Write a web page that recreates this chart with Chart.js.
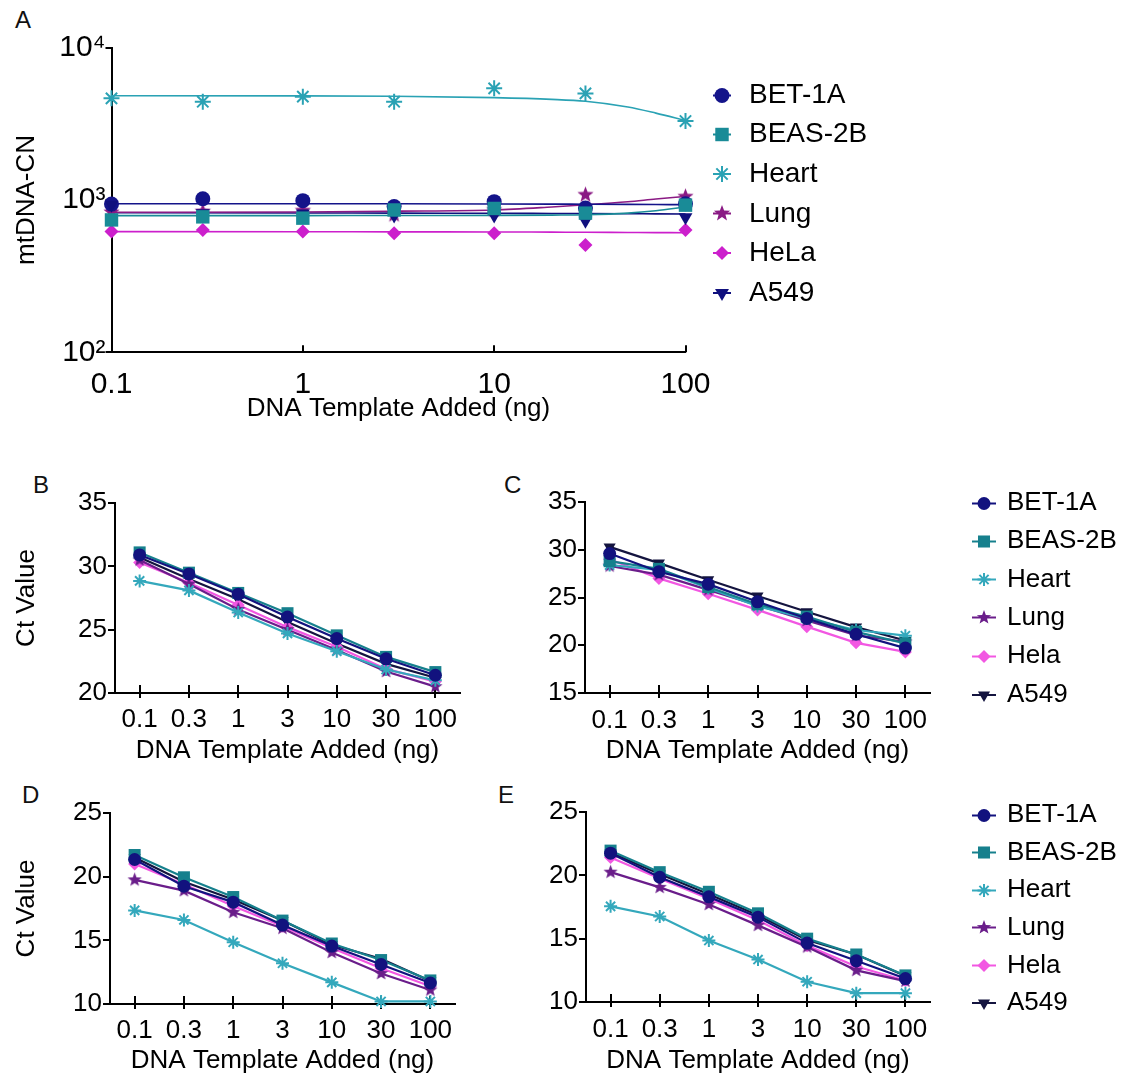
<!DOCTYPE html>
<html>
<head>
<meta charset="utf-8">
<title>mtDNA-CN and Ct values</title>
<script src="https://cdn.jsdelivr.net/npm/chart.js@4.4.1/dist/chart.umd.min.js"></script>
<style>
  html, body { margin: 0; padding: 0; background: #fff; }
  body { position: relative; width: 1128px; height: 1076px; overflow: hidden; font-family: "Liberation Sans", Arial, sans-serif; }
  canvas { position: absolute; }
  .tag { position: absolute; font-size: 24px; line-height: 24px; color: #111; }
</style>
</head>
<body>
<div class="tag" style="left:15px;top:8px">A</div>
<div class="tag" style="left:33px;top:473px">B</div>
<div class="tag" style="left:504px;top:473px">C</div>
<div class="tag" style="left:22px;top:783px">D</div>
<div class="tag" style="left:498px;top:783px">E</div>

<canvas id="chartA" width="1128" height="440" style="left:0;top:0"></canvas>
<canvas id="chartB" width="560" height="300" style="left:0;top:470px"></canvas>
<canvas id="chartC" width="588" height="300" style="left:540px;top:470px"></canvas>
<canvas id="chartD" width="560" height="306" style="left:0;top:770px"></canvas>
<canvas id="chartE" width="588" height="306" style="left:540px;top:770px"></canvas>

<script>
// ---------- data ----------
const cellLinesA = ["BET-1A", "BEAS-2B", "Heart", "Lung", "HeLa", "A549"];
const cellLinesCt = ["BET-1A", "BEAS-2B", "Heart", "Lung", "Hela", "A549"];
const templateNg = [0.1, 0.3, 1, 3, 10, 30, 100];
const templateLabels = ["0.1", "0.3", "1", "3", "10", "30", "100"];

// A: mtDNA copy number (log axes)
const cnBET1A  = [940, 1020, 990, 905, 975, 885, 945];
const cnBEAS2B = [740, 775, 760, 860, 880, 820, 925];
const cnHeart  = [4650, 4420, 4770, 4420, 5410, 5010, 3300];
const cnLung   = [830, 840, 850, 800, 860, 1080, 1050];
const cnHeLa   = [620, 635, 620, 605, 605, 507, 635];
const cnA549   = [930, 820, 815, 790, 790, 730, 770];

// A: fitted curves, read at these template amounts
const fitNg     = [0.1, 1, 3, 10, 20, 30, 50, 70, 100];
const fitBET1A  = [945, 945, 944, 942, 940, 938, 936, 934, 932];
const fitBEAS2B = [790, 790, 791, 792, 796, 800, 820, 850, 900];
const fitHeart  = [4840, 4830, 4800, 4700, 4580, 4450, 4080, 3720, 3330];
const fitLung   = [830, 835, 845, 860, 900, 930, 975, 1015, 1055];
const fitHeLa   = [620, 619, 618, 617, 615, 614, 612, 611, 610];
const fitA549   = [825, 822, 820, 818, 816, 815, 813, 811, 810];

const ngTicksA = [0.1, 1, 10, 100];
const cnTicks = [100, 1000, 10000];
const cnTickLabels = ["10\u00B2", "10\u00B3", "10\u2074"];

// B
const bBET1A  = [30.9, 29.4, 27.8, 26.0, 24.3, 22.7, 21.4];
const bBEAS2B = [31.1, 29.5, 27.9, 26.3, 24.55, 22.85, 21.65];
const bHeart  = [28.85, 28.1, 26.35, 24.7, 23.3, 21.85, 21.0];
const bLung   = [30.5, 28.6, 26.6, 25.0, 23.4, 21.7, 20.5];
const bHela   = [30.3, 28.7, 26.95, 25.2, 23.65, 21.9, 20.9];
const bA549   = [30.7, 29.0, 27.4, 25.6, 23.9, 22.3, 21.2];
const ctTicksB = [20, 25, 30, 35];

// C
const cBET1A  = [29.6, 27.7, 26.4, 24.55, 22.8, 21.15, 19.7];
const cBEAS2B = [28.8, 28.0, 26.1, 24.3, 23.0, 21.4, 20.2];
const cHeart  = [28.4, 27.9, 26.0, 24.1, 22.8, 21.6, 21.0];
const cLung   = [28.3, 27.4, 25.8, 24.2, 22.6, 21.05, 20.35];
const cHela   = [29.0, 27.0, 25.4, 23.7, 21.95, 20.25, 19.3];
const cA549   = [30.3, 28.6, 26.85, 25.15, 23.5, 21.9, 20.5];
const ctTicksC = [15, 20, 25, 30, 35];

// D
const dBET1A  = [21.35, 19.25, 18.0, 16.2, 14.55, 13.1, 11.65];
const dBEAS2B = [21.7, 19.95, 18.4, 16.55, 14.75, 13.45, 11.85];
const dHeart  = [17.35, 16.6, 14.85, 13.2, 11.7, 10.2, 10.2];
const dLung   = [19.75, 18.9, 17.2, 15.95, 14.05, 12.4, 11.1];
const dHela   = [21.0, 19.4, 17.7, 16.1, 14.4, 12.8, 11.4];
const dA549   = [21.5, 19.6, 18.2, 16.55, 14.65, 13.55, 11.8];
const ctTicksD = [10, 15, 20, 25];

// E
const eBET1A  = [21.75, 19.85, 18.3, 16.7, 14.65, 13.25, 11.85];
const eBEAS2B = [21.95, 20.25, 18.7, 17.0, 15.0, 13.75, 12.1];
const eHeart  = [17.55, 16.75, 14.85, 13.35, 11.6, 10.7, 10.7];
const eLung   = [20.25, 19.05, 17.7, 16.05, 14.35, 12.5, 11.65];
const eHela   = [21.4, 19.75, 18.15, 16.45, 14.45, 12.8, 11.7];
const eA549   = [21.8, 20.1, 18.5, 16.85, 14.9, 13.75, 12.05];
const ctTicksE = [10, 15, 20, 25];

// ---------- look ----------
const FONT = '"Liberation Sans", Arial, sans-serif';
Chart.defaults.font.family = FONT;
Chart.defaults.color = '#000';
Chart.defaults.animation = false;

const looksA = [
  { color: '#14148a', style: 'circle',   r: 7.5 },
  { color: '#198b97', style: 'rect',     r: 9.5 },
  { color: '#2aa2b4', style: 'star',     r: 8 },
  { color: '#8a1a84', style: 'star5',    r: 8.5 },
  { color: '#cc1fcc', style: 'rectRot',  r: 7 },
  { color: '#10107e', style: 'triangle', r: 8, rot: 180 },
];
const looksCt = [
  { color: '#12127e', style: 'circle',   r: 6.5 },
  { color: '#16808d', style: 'rect',     r: 8.5 },
  { color: '#34a8bc', style: 'star',     r: 6.5 },
  { color: '#6a1d8a', style: 'star5',    r: 7.5 },
  { color: '#f257e2', style: 'rectRot',  r: 6.5 },
  { color: '#14143f', style: 'triangle', r: 7,   rot: 180 },
];

function drawMarker(ctx, style, x, y, r, color, rot) {
  ctx.fillStyle = color; ctx.strokeStyle = color; ctx.lineWidth = 2;
  ctx.beginPath();
  if (style === 'circle') {
    ctx.arc(x, y, r, 0, Math.PI * 2); ctx.fill();
  } else if (style === 'rect') {
    const h = r * Math.SQRT1_2; ctx.fillRect(x - h, y - h, 2 * h, 2 * h);
  } else if (style === 'star') {
    for (let k = 0; k < 4; k++) {
      const a = k * Math.PI / 4;
      ctx.moveTo(x - Math.cos(a) * r, y - Math.sin(a) * r);
      ctx.lineTo(x + Math.cos(a) * r, y + Math.sin(a) * r);
    }
    ctx.stroke();
  } else if (style === 'star5') {
    for (let k = 0; k < 10; k++) {
      const rr = k % 2 ? r * 0.42 : r;
      const a = -Math.PI / 2 + k * Math.PI / 5;
      ctx.lineTo(x + Math.cos(a) * rr, y + Math.sin(a) * rr);
    }
    ctx.closePath(); ctx.fill();
  } else if (style === 'rectRot') {
    ctx.moveTo(x, y - r); ctx.lineTo(x + r, y); ctx.lineTo(x, y + r); ctx.lineTo(x - r, y);
    ctx.closePath(); ctx.fill();
  } else if (style === 'triangle') {
    let a = (rot || 0) * Math.PI / 180;
    for (let k = 0; k < 3; k++) {
      ctx.lineTo(x + Math.sin(a) * r, y - Math.cos(a) * r);
      a += 2 * Math.PI / 3;
    }
    ctx.closePath(); ctx.fill();
  }
}

function markerCanvas(look) {
  const s = Math.ceil(look.r * 2 + 4);
  const c = document.createElement('canvas');
  c.width = s; c.height = s;
  drawMarker(c.getContext('2d'), look.style, s / 2, s / 2, look.r, look.color, look.rot);
  return c;
}

function iconCanvas(look, len) {
  const h = Math.ceil(look.r * 2 + 4);
  const c = document.createElement('canvas');
  c.width = len; c.height = h;
  const ctx = c.getContext('2d');
  ctx.strokeStyle = look.color; ctx.lineWidth = 2;
  ctx.beginPath(); ctx.moveTo(0, h / 2); ctx.lineTo(len, h / 2); ctx.stroke();
  drawMarker(ctx, look.style, len / 2, h / 2, look.r, look.color, look.rot);
  return c;
}

function pointStyleOf(look) {
  return look.style === 'star5' ? markerCanvas(look) : look.style;
}

// legend drawn at a fixed place beside the plot, from the datasets that carry an icon
function sideLegend(x, textX, y0, dy, font) {
  return {
    id: 'sideLegend',
    afterDraw(chart) {
      const ctx = chart.ctx;
      ctx.save();
      ctx.font = font; ctx.fillStyle = '#000';
      ctx.textBaseline = 'middle'; ctx.textAlign = 'left';
      let i = 0;
      chart.data.datasets.forEach(ds => {
        if (!ds.legendIcon) return;
        const y = y0 + i * dy;
        ctx.drawImage(ds.legendIcon, Math.round(x - ds.legendIcon.width / 2), Math.round(y - ds.legendIcon.height / 2));
        ctx.fillText(ds.label, textX, y);
        i++;
      });
      ctx.restore();
    }
  };
}

// x tick marks that sit on / cross the axis line
function xTickMarks(up, down) {
  return {
    id: 'xTickMarks',
    beforeDatasetsDraw(chart) {
      const s = chart.scales.x, ctx = chart.ctx, yb = chart.chartArea.bottom;
      ctx.save();
      ctx.strokeStyle = '#000'; ctx.lineWidth = 2;
      s.ticks.forEach((t, i) => {
        const px = Math.round(s.getPixelForTick(i));
        ctx.beginPath(); ctx.moveTo(px, yb - up); ctx.lineTo(px, yb + down); ctx.stroke();
      });
      ctx.restore();
    }
  };
}

// ---------- panel A ----------
(function () {
  const W = 1128, H = 440, L = 111.5, R = 685.5, T = 47.7, B = 352.3;
  const cn = [cnBET1A, cnBEAS2B, cnHeart, cnLung, cnHeLa, cnA549];
  const fits = [fitBET1A, fitBEAS2B, fitHeart, fitLung, fitHeLa, fitA549];
  const stackOrder = [2, 0, 5, 3, 4, 1];
  const datasets = [];
  cn.forEach((vals, i) => {
    const look = looksA[i];
    datasets.push({
      label: cellLinesA[i],
      data: templateNg.map((x, k) => ({ x: x, y: vals[k] })),
      showLine: false,
      order: stackOrder[i],
      pointStyle: pointStyleOf(look),
      pointRadius: look.r,
      pointRotation: look.rot || 0,
      pointBackgroundColor: look.color,
      pointBorderColor: look.color,
      pointBorderWidth: look.style === 'star' ? 2 : 0,
      clip: false,
      legendIcon: iconCanvas(look, 18)
    });
  });
  fits.forEach((vals, i) => {
    datasets.push({
      label: cellLinesA[i] + ' fit',
      data: fitNg.map((x, k) => ({ x: x, y: vals[k] })),
      showLine: true,
      order: 10,
      borderColor: looksA[i].color,
      borderWidth: 1.6,
      pointRadius: 0,
      cubicInterpolationMode: 'monotone',
      clip: false
    });
  });

  new Chart(document.getElementById('chartA'), {
    type: 'line',
    data: { datasets },
    options: {
      responsive: false,
      animation: false,
      layout: { padding: { left: 0, top: T, right: W - R, bottom: 0 } },
      plugins: { legend: { display: false }, tooltip: { enabled: false } },
      scales: {
        x: {
          type: 'logarithmic', min: 0.1, max: 100,
          afterBuildTicks(s) { s.ticks = ngTicksA.map(v => ({ value: v })); },
          afterFit(s) { s.height = H - B; },
          ticks: {
            autoSkip: false, maxRotation: 0, padding: 9,
            font: { size: 30, lineHeight: 1 },
            callback: v => templateLabels[templateNg.indexOf(v)]
          },
          grid: { display: false },
          border: { display: true, color: '#000', width: 2 },
          title: { display: true, text: 'DNA Template Added (ng)', font: { size: 26 }, padding: { top: 0, bottom: 16 } }
        },
        y: {
          type: 'logarithmic', min: 100, max: 10000,
          afterBuildTicks(s) { s.ticks = cnTicks.map(v => ({ value: v })); },
          afterFit(s) { s.width = L; },
          ticks: {
            padding: 0,
            font: { size: 30, lineHeight: 1 },
            callback: v => cnTickLabels[cnTicks.indexOf(v)]
          },
          grid: { display: true, drawOnChartArea: false, drawTicks: true, tickLength: 6, color: '#000', lineWidth: 2 },
          border: { display: true, color: '#000', width: 2 },
          title: { display: true, text: 'mtDNA-CN', font: { size: 26 }, padding: { top: 11, bottom: 0 } }
        }
      }
    },
    plugins: [xTickMarks(7, 0), sideLegend(722, 749, 95, 39.6, '28px ' + FONT)]
  });
})();

// ---------- panels B-E ----------
function ctChart(id, series, yTicks, g, withYTitle, withLegend) {
  const datasets = series.map((vals, i) => {
    const look = looksCt[i];
    return {
      label: cellLinesCt[i],
      data: vals,
      borderColor: look.color,
      backgroundColor: look.color,
      borderWidth: 2.2,
      tension: 0,
      pointStyle: pointStyleOf(look),
      pointRadius: look.r,
      pointRotation: look.rot || 0,
      pointBackgroundColor: look.color,
      pointBorderColor: look.color,
      pointBorderWidth: look.style === 'star' ? 2 : 0,
      clip: false,
      legendIcon: withLegend ? iconCanvas(look, 24) : null
    };
  });
  const plugins = [xTickMarks(8, 5)];
  if (withLegend) plugins.push(sideLegend(444, 467, g.legY, g.legDy, '26px ' + FONT));

  new Chart(document.getElementById(id), {
    type: 'line',
    data: { labels: templateLabels, datasets },
    options: {
      responsive: false,
      animation: false,
      layout: { padding: { left: 0, top: g.T, right: g.W - g.R, bottom: 0 } },
      plugins: { legend: { display: false }, tooltip: { enabled: false } },
      scales: {
        x: {
          type: 'category', offset: true,
          afterFit(s) { s.height = g.H - g.B; },
          ticks: { autoSkip: false, maxRotation: 0, padding: g.xPad, font: { size: 26, lineHeight: 1 } },
          grid: { display: false },
          border: { display: true, color: '#000', width: 2 },
          title: { display: true, text: 'DNA Template Added (ng)', font: { size: 26 }, padding: { top: 0, bottom: g.titlePad } }
        },
        y: {
          type: 'linear', min: yTicks[0], max: yTicks[yTicks.length - 1],
          afterBuildTicks(s) { s.ticks = yTicks.map(v => ({ value: v })); },
          afterFit(s) { s.width = g.L; },
          ticks: { padding: 1, font: { size: 26, lineHeight: 1 } },
          grid: { display: true, drawOnChartArea: false, drawTicks: true, tickLength: 7, color: '#000', lineWidth: 2 },
          border: { display: true, color: '#000', width: 2 },
          title: { display: withYTitle, text: 'Ct Value', font: { size: 26 }, padding: { top: 11, bottom: 0 } }
        }
      }
    },
    plugins
  });
}

ctChart('chartB', [bBET1A, bBEAS2B, bHeart, bLung, bHela, bA549], ctTicksB,
  { W: 560, H: 300, L: 115, R: 460, T: 33, B: 223, xPad: 6, titlePad: 4 }, true, false);
ctChart('chartC', [cBET1A, cBEAS2B, cHeart, cLung, cHela, cA549], ctTicksC,
  { W: 588, H: 300, L: 45, R: 390, T: 32, B: 223, xPad: 7, titlePad: 4, legY: 33, legDy: 38.3 }, false, true);
ctChart('chartD', [dBET1A, dBEAS2B, dHeart, dLung, dHela, dA549], ctTicksD,
  { W: 560, H: 306, L: 110, R: 455, T: 43, B: 234, xPad: 6, titlePad: 0 }, true, false);
ctChart('chartE', [eBET1A, eBEAS2B, eHeart, eLung, eHela, eA549], ctTicksE,
  { W: 588, H: 306, L: 46, R: 390, T: 42, B: 232, xPad: 7, titlePad: 0, legY: 45, legDy: 37.6 }, false, true);
</script>
</body>
</html>
